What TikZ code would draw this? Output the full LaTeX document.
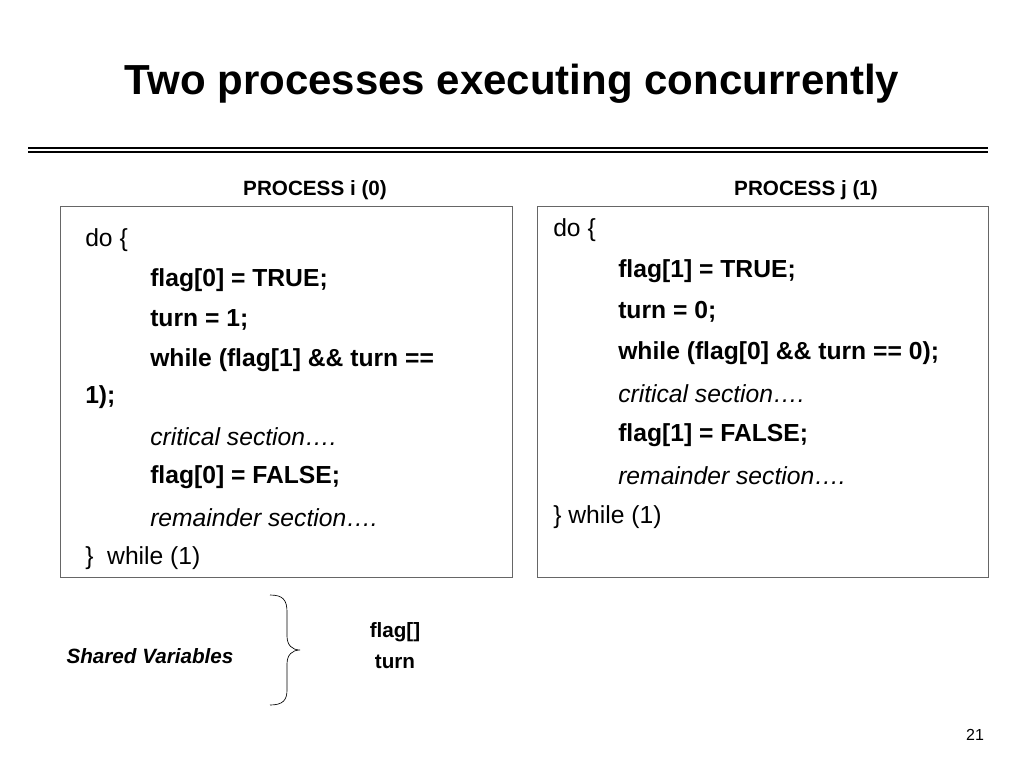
\documentclass[tikz,border=0pt]{standalone}
\usepackage{fontspec}
\setmainfont{Liberation Sans}
\begin{document}
\begin{tikzpicture}[x=0.75pt,y=-0.75pt,
  code/.style={anchor=west,inner sep=0pt,font=\fontsize{18.5}{20}\selectfont},
  bcode/.style={code,font=\fontsize{18.5}{20}\selectfont\bfseries},
  icode/.style={code,font=\fontsize{18.5}{20}\selectfont\itshape},
  hdr/.style={inner sep=0pt,font=\fontsize{15.5}{18}\selectfont\bfseries},
  pbox/.style={draw=black!60,line width=0.6pt}]
\useasboundingbox (0,0) rectangle (1024,768);
\node[inner sep=0pt,font=\fontsize{31.5}{36}\selectfont\bfseries] (title) at (512,84) {Two processes executing concurrently};
\draw[line width=0.8pt] (28,148) coordinate (l1a) -- (988,148) coordinate (l1b);
\draw[line width=0.8pt] (28,152) coordinate (l2a) -- (988,152) coordinate (l2b);
\node[hdr] (hi) at (315,190) {PROCESS i (0)};
\node[hdr] (hj) at (806,190) {PROCESS j (1)};
\draw[pbox] (60,206) rectangle (512,577);
\draw[pbox] (537,206) rectangle (988,577);
% left
\node[code] (a1) at (85,240) {do \{};
\node[bcode] (a2) at (150,280) {flag[0] = TRUE;};
\node[bcode] (a3) at (150,320) {turn = 1;};
\node[bcode] (a4) at (150,360) {while (flag[1] \&\& turn ==};
\node[bcode] (a5) at (85,397) {1);};
\node[icode] (a6) at (150,437) {critical section\dots.};
\node[bcode] (a7) at (150,477) {flag[0] = FALSE;};
\node[icode] (a8) at (150,518) {remainder section\dots.};
\node[code] (a9) at (85,558) {\}~~while (1)};
% right
\node[code] (b1) at (553,230) {do \{};
\node[bcode] (b2) at (618,271) {flag[1] = TRUE;};
\node[bcode] (b3) at (618,312) {turn = 0;};
\node[bcode] (b4) at (618,353) {while (flag[0] \&\& turn == 0);};
\node[icode] (b5) at (618,394) {critical section\dots.};
\node[bcode] (b6) at (618,435) {flag[1] = FALSE;};
\node[icode] (b7) at (618,476) {remainder section\dots.};
\node[code] (b8) at (553,517) {\} while (1)};
% shared
\node[inner sep=0pt,font=\fontsize{15.5}{18}\selectfont\bfseries\itshape] (sv) at (150,656) {Shared Variables};
\draw[line width=0.5pt] (270,595) .. controls (283,595) and (287,600) .. (287,612)
  -- (287,636) .. controls (287,645) and (292,650) .. (300,650)
  .. controls (292,650) and (287,655) .. (287,664) -- (287,690)
  .. controls (287,700) and (283,705) .. (270,705);
\node[hdr] (fl) at (395,632) {flag[]};
\node[hdr] (tu) at (395,662) {turn};
\node[inner sep=0pt,font=\fontsize{12}{14}\selectfont] (pg) at (975,735) {21};
\end{tikzpicture}
\end{document}
